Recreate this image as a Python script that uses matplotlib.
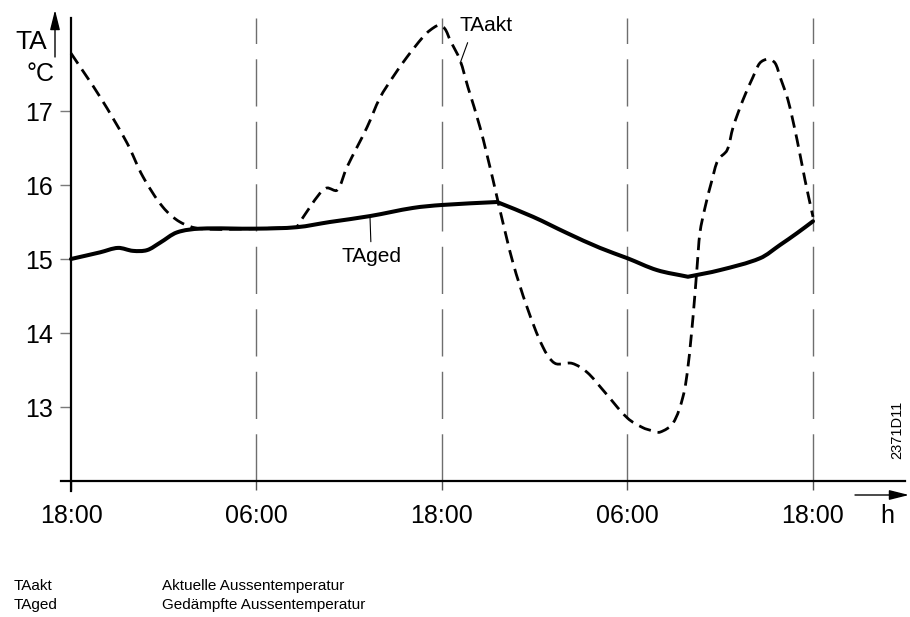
import numpy as np
import matplotlib
matplotlib.use("Agg")
import matplotlib.pyplot as plt
from matplotlib.path import Path
from matplotlib.patches import PathPatch

plt.rcParams['font.family'] = ['Liberation Sans', 'DejaVu Sans']
plt.rcParams['lines.scale_dashes'] = False

# hours since the first 18:00
tick_hours = [0, 12, 24, 36, 48]
tick_labels = ["18:00", "06:00", "18:00", "06:00", "18:00"]
temp_ticks = [13, 14, 15, 16, 17]

# damped outside temperature (TAged)
ged_h = [0, 1.88, 3.04, 4.01, 4.92, 5.76, 6.86, 8.35, 12.0, 14.62, 16.75, 19.34,
         22.12, 24.0, 27.56, 29.89, 32.09, 34.22, 36.0, 37.91, 39.91, 41.98,
         44.57, 45.87, 46.97, 48.0]
ged_t = [15.00, 15.09, 15.15, 15.11, 15.12, 15.22, 15.36, 15.41, 15.41, 15.43,
         15.50, 15.58, 15.69, 15.73, 15.77, 15.57, 15.35, 15.15, 15.01, 14.85,
         14.76, 14.85, 15.01, 15.19, 15.35, 15.51]
ged_corners = [14, 20]

# actual outside temperature (TAakt)
akt_h = [0, 1.88, 3.62, 4.66, 5.95, 7.05, 8.35, 12.0, 14.62, 14.81, 16.11, 16.56,
         17.21, 17.85, 19.15, 19.99, 20.83, 21.74, 22.77, 23.22, 23.81, 24.19,
         24.52, 25.16, 25.68, 26.46, 27.30, 27.75, 28.59, 29.50, 30.53, 31.31,
         32.41, 33.38, 34.41, 36.0, 37.00, 37.59, 38.10, 38.94, 39.59, 39.91,
         40.24, 40.50, 40.69, 41.02, 41.47, 41.86, 42.44, 42.83, 43.47, 44.12,
         44.57, 45.09, 45.54, 45.87, 46.38, 46.97, 47.48, 48.0]
akt_t = [17.78, 17.19, 16.57, 16.11, 15.70, 15.50, 15.41, 15.41, 15.43, 15.50,
         15.89, 15.96, 15.93, 16.24, 16.78, 17.18, 17.46, 17.73, 18.00, 18.09,
         18.16, 18.11, 17.96, 17.69, 17.32, 16.78, 16.07, 15.66, 14.95, 14.35,
         13.81, 13.59, 13.59, 13.47, 13.23, 12.85, 12.72, 12.68, 12.66, 12.78,
         13.14, 13.54, 14.22, 14.89, 15.36, 15.70, 16.07, 16.34, 16.47, 16.78,
         17.15, 17.46, 17.65, 17.70, 17.65, 17.46, 17.15, 16.61, 16.07, 15.57]
akt_corners = [8]

W, H = 910, 617
fig = plt.figure(figsize=(W / 100, H / 100), dpi=100)


def fx(x):
    return x / W


def fy(y):
    return 1 - y / H


ax = fig.add_axes([fx(61), fy(491), (905 - 61) / W, (491 - 18) / H])
ax.set_xlim(-10 / 15.4583, 834 / 15.4583)
ax.set_ylim(15 - 232 / 74, 15 + 241 / 74)


def smooth_path(xs, ys, corners=()):
    """Cubic Hermite curve through the points, chord-parameterised in display space."""
    p = np.column_stack([xs, ys]).astype(float)
    d = ax.transData.transform(p)
    dt = np.maximum(np.hypot(*np.diff(d, axis=0).T), 1e-6)
    n = len(p)
    t_in = np.zeros_like(p)
    t_out = np.zeros_like(p)
    for i in range(n):
        if i == 0:
            t_in[i] = t_out[i] = (p[1] - p[0]) / dt[0]
        elif i == n - 1:
            t_in[i] = t_out[i] = (p[i] - p[i - 1]) / dt[i - 1]
        elif i in corners:
            t_in[i] = (p[i] - p[i - 1]) / dt[i - 1]
            t_out[i] = (p[i + 1] - p[i]) / dt[i]
        else:
            t = (p[i + 1] - p[i - 1]) / (dt[i - 1] + dt[i])
            t_in[i] = t_out[i] = t
    verts = [p[0]]
    codes = [Path.MOVETO]
    for i in range(n - 1):
        verts += [p[i] + t_out[i] * dt[i] / 3, p[i + 1] - t_in[i + 1] * dt[i] / 3, p[i + 1]]
        codes += [Path.CURVE4] * 3
    return Path(verts, codes)


for s in ("top", "right"):
    ax.spines[s].set_visible(False)
ax.spines["left"].set_position(("data", 0))
ax.spines["bottom"].set_position(("data", 12))
ax.spines["left"].set_linewidth(1.6)
ax.spines["bottom"].set_linewidth(1.6)
ax.spines["left"].set_zorder(5)

ax.set_yticks(temp_ticks)
ax.set_yticklabels([str(t) for t in temp_ticks])
ax.tick_params(axis="y", direction="out", length=8, width=1, color="#7a7a7a",
               labelsize=18, pad=5, labelcolor="black")
ax.set_xticks(tick_hours)
ax.set_xticklabels(tick_labels)
ax.tick_params(axis="x", direction="out", length=6.5, width=1, color="#555555",
               labelsize=18, pad=10, labelcolor="black")

# time grid
ax.vlines(tick_hours[1:], 12, ax.get_ylim()[1], colors="#6e6e6e", linewidth=1.0,
          linestyles=[(0, (34, 11))])

ax.add_patch(PathPatch(smooth_path(ged_h, ged_t, ged_corners), fill=False,
                       edgecolor="black", linewidth=2.9, joinstyle="round",
                       capstyle="round", zorder=3))
ax.add_patch(PathPatch(smooth_path(akt_h, akt_t, akt_corners), fill=False,
                       edgecolor="black", linewidth=2.0, linestyle=(0, (9, 5)),
                       joinstyle="round", zorder=4))

# curve labels with leader lines
ax.annotate("TAakt", xy=(25.2, np.interp(25.2, akt_h, akt_t)), xytext=(25.16, 18.16),
            ha="left", va="center", fontsize=15,
            arrowprops=dict(arrowstyle="-", lw=0.8, color="black", relpos=(0.2, 0.0),
                            shrinkA=4, shrinkB=0))
ax.annotate("TAged", xy=(19.34, np.interp(19.34, ged_h, ged_t)), xytext=(19.41, 15.03),
            ha="center", va="center", fontsize=15,
            arrowprops=dict(arrowstyle="-", lw=0.8, color="black", relpos=(0.5, 1.0),
                            shrinkA=2, shrinkB=0))

# axis arrows and titles
arrow = dict(arrowstyle="-|>,head_length=0.6,head_width=0.15", lw=1.0, color="black",
             mutation_scale=20, shrinkA=0, shrinkB=0)
ax.annotate("", xy=(55, H - 10), xytext=(55, H - 57), xycoords="figure pixels",
            textcoords="figure pixels", arrowprops=arrow, annotation_clip=False)
ax.annotate("", xy=(909, H - 495), xytext=(855, H - 495), xycoords="figure pixels",
            textcoords="figure pixels", arrowprops=arrow, annotation_clip=False)

fig.text(fx(31), fy(42), "TA", fontsize=19, ha="center", va="center")
fig.text(fx(40), fy(74), "°C", fontsize=18, ha="center", va="center")
fig.text(fx(887), fy(516), "h", fontsize=18, ha="center", va="center")
fig.text(fx(897), fy(430), "2371D11", fontsize=10.5, rotation=90, ha="center", va="center")

# legend lines below the chart
fig.text(fx(14), fy(590), "TAakt", fontsize=11, ha="left", va="baseline")
fig.text(fx(162), fy(590), "Aktuelle Aussentemperatur", fontsize=11, ha="left", va="baseline")
fig.text(fx(14), fy(609), "TAged", fontsize=11, ha="left", va="baseline")
fig.text(fx(162), fy(609), "Gedämpfte Aussentemperatur", fontsize=11, ha="left", va="baseline")

fig.savefig("out.png", dpi=100)
